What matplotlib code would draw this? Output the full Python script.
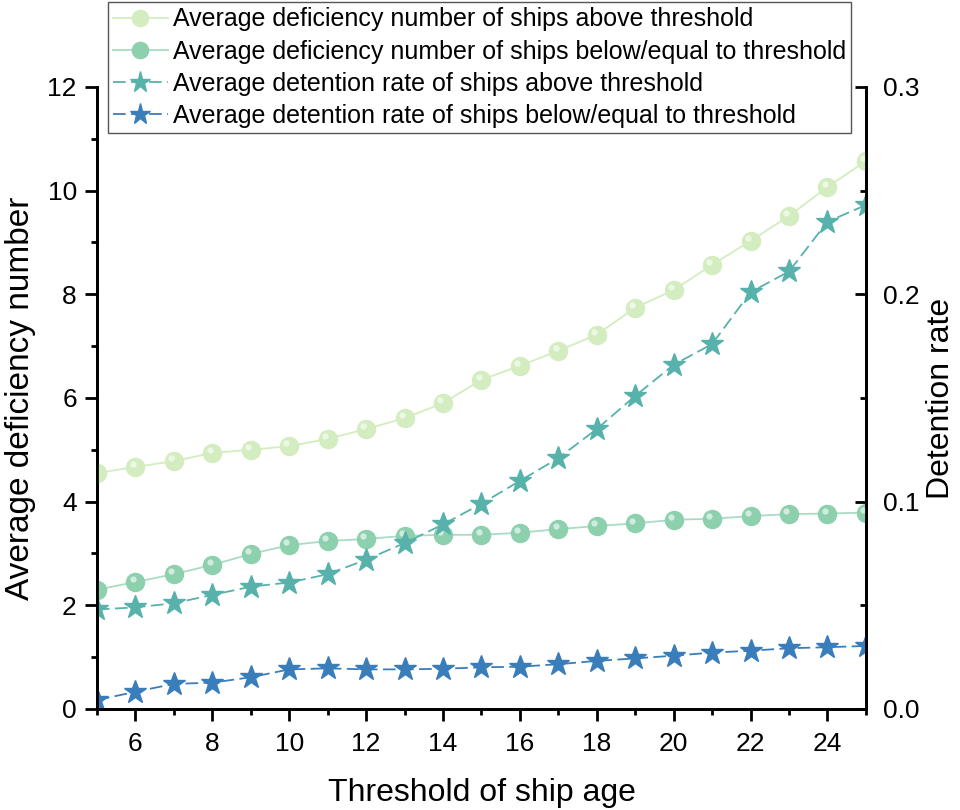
import matplotlib
matplotlib.use("Agg")
import matplotlib.pyplot as plt
from matplotlib.ticker import MultipleLocator
from matplotlib.transforms import offset_copy

plt.rcParams['font.family'] = ['Liberation Sans', 'DejaVu Sans']

# ship age thresholds
ages = list(range(5, 26))

# average deficiency number (left axis)
defic_above = [4.55, 4.67, 4.78, 4.94, 5.00, 5.07, 5.21, 5.40, 5.61, 5.90, 6.35,
               6.62, 6.91, 7.22, 7.74, 8.08, 8.57, 9.03, 9.51, 10.07, 10.57]
defic_below = [2.30, 2.45, 2.60, 2.78, 2.99, 3.16, 3.24, 3.28, 3.34, 3.36, 3.36,
               3.40, 3.47, 3.53, 3.58, 3.65, 3.67, 3.72, 3.76, 3.77, 3.79]

# average detention rate (right axis)
det_above = [0.048, 0.049, 0.051, 0.055, 0.059, 0.061, 0.065, 0.072, 0.080, 0.089, 0.099,
             0.110, 0.121, 0.135, 0.151, 0.166, 0.176, 0.201, 0.211, 0.235, 0.243]
det_below = [0.0043, 0.0083, 0.0121, 0.0127, 0.0153, 0.0191, 0.0196, 0.0191, 0.0191, 0.0194, 0.0201,
             0.0204, 0.0216, 0.0232, 0.0244, 0.0257, 0.0272, 0.0281, 0.0293, 0.0298, 0.0304]

labels = ['Average deficiency number of ships above threshold',
          'Average deficiency number of ships below/equal to threshold',
          'Average detention rate of ships above threshold',
          'Average detention rate of ships below/equal to threshold']

fig = plt.figure(figsize=(9.6, 8.1), dpi=100)
ax = fig.add_axes([0.101, 0.1247, 0.801, 0.768])
ax2 = ax.twinx()


def ball(axis, y, color, linecolor, label):
    # sphere-like marker: solid disc plus a small white highlight
    ln, = axis.plot(ages, y, '-', color=linecolor, lw=1.3, marker='o', ms=13,
                    mfc=color, mec=color, label=label, zorder=3)
    hl_tr = offset_copy(axis.transData, fig=fig, x=-2.0, y=2.0, units='points')
    axis.plot(ages, y, ls='none', marker='o', ms=4.5, mfc='white', mec='none',
              alpha=0.6, transform=hl_tr, zorder=4)
    return ln


h1 = ball(ax, defic_above, '#d3edc0', '#d3edc0', labels[0])
h2 = ball(ax, defic_below, '#8dd0ae', '#a9dcc3', labels[1])

h3, = ax2.plot(ages, det_above, color='#56b2aa', lw=1.3, ls=(0, (7, 3)),
               marker='*', ms=17, mfc='#56b2aa', mec='#56b2aa', label=labels[2])
h4, = ax2.plot(ages, det_below, color='#3a7dbb', lw=1.3, ls=(0, (7, 3)),
               marker='*', ms=17, mfc='#3a7dbb', mec='#3a7dbb', label=labels[3])

ax.set_xlim(5, 25)
ax.set_ylim(0, 12)
ax2.set_ylim(0, 0.3)

ax.xaxis.set_major_locator(MultipleLocator(2))
ax.xaxis.set_minor_locator(MultipleLocator(1))
ax.yaxis.set_major_locator(MultipleLocator(2))
ax.yaxis.set_minor_locator(MultipleLocator(1))
ax2.set_yticks([0, 0.1, 0.2, 0.3])
ax2.set_yticklabels(['0.0', '0.1', '0.2', '0.3'])
ax2.yaxis.set_minor_locator(MultipleLocator(0.05))

for a in (ax, ax2):
    a.spines['top'].set_visible(False)
    for s in a.spines.values():
        s.set_linewidth(2)

ax.tick_params(which='major', direction='out', length=8.5, width=2, labelsize=19, pad=6)
ax.tick_params(axis='x', which='major', pad=8)
ax.tick_params(which='minor', direction='out', length=4, width=2)
ax2.tick_params(which='major', direction='in', length=8, width=2, labelsize=19, pad=12)
ax2.tick_params(which='minor', direction='in', length=4, width=2)

ax.set_xlabel('Threshold of ship age', fontsize=23, labelpad=16)
ax.set_ylabel('Average deficiency number', fontsize=24, labelpad=8)
ax2.set_ylabel('Detention rate', fontsize=23, labelpad=5)

leg = fig.legend(handles=[h1, h2, h3, h4], loc='upper left',
                 bbox_to_anchor=(0.112, 0.997), fontsize=18, frameon=True,
                 fancybox=False, edgecolor='#555555', framealpha=1,
                 borderpad=0.2, labelspacing=0.33, handlelength=2.2,
                 handletextpad=0.2, borderaxespad=0, markerscale=0.9)
leg.get_frame().set_linewidth(1)

fig.savefig('out.png', dpi=100)
